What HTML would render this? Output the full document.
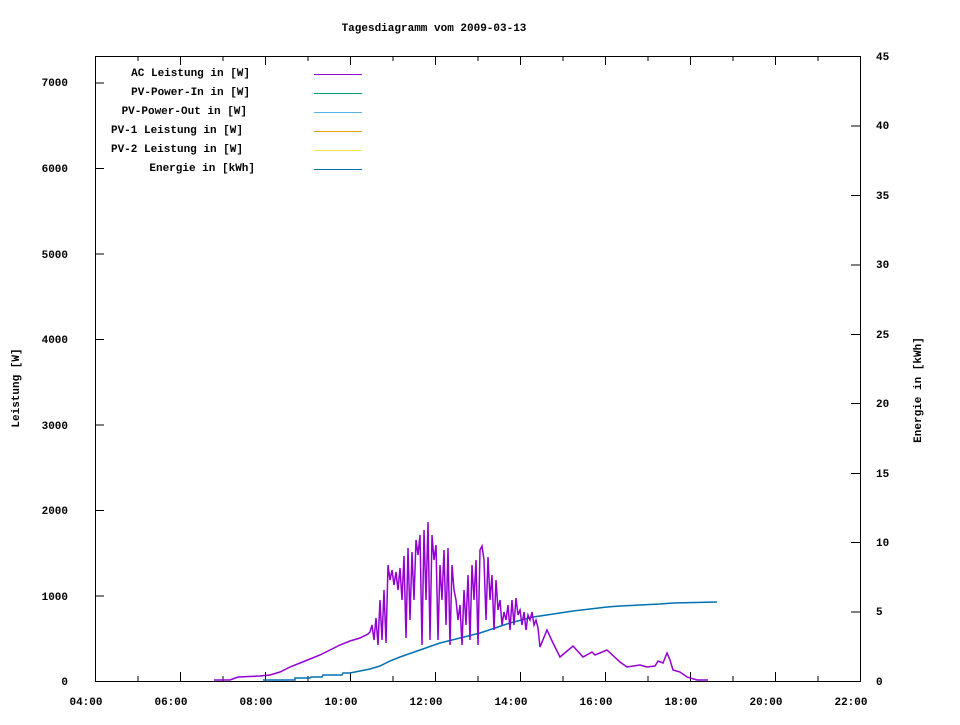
<!DOCTYPE html>
<html><head><meta charset="utf-8"><style>
html,body{margin:0;padding:0;background:#fff;}
svg text{font-family:"Liberation Mono",monospace;font-size:11px;font-weight:bold;fill:#000;}
</style></head><body>
<svg width="960" height="720" xmlns="http://www.w3.org/2000/svg">
<rect width="960" height="720" fill="#fff"/>
<text x="434" y="31" text-anchor="middle">Tagesdiagramm vom 2009-03-13</text>
<g stroke="#000" stroke-width="1">
<path d="M95.5 681v-9M95.5 56v9M138 681v-5M138 56v5M180.5 681v-9M180.5 56v9M223 681v-5M223 56v5M265.5 681v-9M265.5 56v9M308 681v-5M308 56v5M350.5 681v-9M350.5 56v9M393 681v-5M393 56v5M435.5 681v-9M435.5 56v9M478 681v-5M478 56v5M520.5 681v-9M520.5 56v9M563 681v-5M563 56v5M605.5 681v-9M605.5 56v9M648 681v-5M648 56v5M690.5 681v-9M690.5 56v9M733 681v-5M733 56v5M775.5 681v-9M775.5 56v9M818 681v-5M818 56v5M860.5 681v-9M860.5 56v9"/>
<path d="M95 596h9M95 510.5h9M95 425h9M95 339.5h9M95 254h9M95 168.5h9M95 83h9"/>
<path d="M860 612h-9M860 542.5h-9M860 473.5h-9M860 403.5h-9M860 334.5h-9M860 265h-9M860 195.5h-9M860 126h-9"/>
</g>
<rect x="95.5" y="56.5" width="765" height="625" fill="none" stroke="#000"/>
<g text-anchor="middle">
<text x="86" y="705">04:00</text><text x="171" y="705">06:00</text><text x="256" y="705">08:00</text><text x="341" y="705">10:00</text><text x="426" y="705">12:00</text><text x="511" y="705">14:00</text><text x="596" y="705">16:00</text><text x="681" y="705">18:00</text><text x="766" y="705">20:00</text><text x="851" y="705">22:00</text>
</g>
<g text-anchor="end">
<text x="68" y="685">0</text><text x="68" y="600">1000</text><text x="68" y="514">2000</text><text x="68" y="429">3000</text><text x="68" y="343">4000</text><text x="68" y="258">5000</text><text x="68" y="172">6000</text><text x="68" y="86">7000</text>
</g>
<g>
<text x="876" y="685">0</text><text x="876" y="615">5</text><text x="876" y="546">10</text><text x="876" y="477">15</text><text x="876" y="407">20</text><text x="876" y="338">25</text><text x="876" y="268">30</text><text x="876" y="199">35</text><text x="876" y="129">40</text><text x="876" y="60">45</text>
</g>
<text transform="translate(19,388) rotate(-90)" text-anchor="middle">Leistung [W]</text>
<text transform="translate(921,390) rotate(-90)" text-anchor="middle">Energie in [kWh]</text>
<g text-anchor="end">
<text x="250" y="76">AC Leistung in [W]</text>
<text x="250" y="95">PV-Power-In in [W]</text>
<text x="247" y="114">PV-Power-Out in [W]</text>
<text x="243" y="133">PV-1 Leistung in [W]</text>
<text x="243" y="152">PV-2 Leistung in [W]</text>
<text x="255" y="171">Energie in [kWh]</text>
</g>
<line x1="314" y1="74.5" x2="362" y2="74.5" stroke="#9400d3"/>
<line x1="314" y1="93.5" x2="362" y2="93.5" stroke="#009e73"/>
<line x1="314" y1="112.5" x2="362" y2="112.5" stroke="#56b4e9"/>
<line x1="314" y1="131.5" x2="362" y2="131.5" stroke="#e69f00"/>
<line x1="314" y1="150.5" x2="362" y2="150.5" stroke="#f0e442"/>
<line x1="314" y1="169.5" x2="362" y2="169.5" stroke="#0072b2"/>
<polyline fill="none" stroke="#0072b2" stroke-width="1.5" points="263,680 295,680 295,678 310,678 311,677 322,677 323,675 342,675 343,673 350,673 360,671 370,669 380,666 390,661 400,657 420,650 440,643 460,638 480,633 495,628 510,623 533,617 540,616 560,613 573,611 590,609 607,607 620,606 640,605 660,604 673,603 717,602"/>
<polyline fill="none" stroke="#9400d3" stroke-width="1.5" points="214,680 230,680 238,677 260,676 270,675 280,672 290,667 300,663 310,659 320,655 330,650 340,645 350,641 360,638 368,634 370,632 372,625 374,640 376,618 378,645 380,600 382,640 384,590 386,643 388,565 390,580 392,570 394,585 396,572 398,590 400,568 402,600 404,556 406,638 408,548 410,620 412,552 414,600 416,540 418,555 420,535 422,645 424,530 426,600 428,522 430,640 432,535 434,560 436,545 438,640 440,565 442,600 444,550 446,625 448,548 450,645 452,565 454,590 456,600 458,620 460,605 462,645 464,590 466,625 468,575 470,640 472,565 474,600 476,560 478,645 480,550 482,546 484,560 486,620 488,557 490,600 492,575 494,630 496,580 498,610 500,600 502,625 504,612 506,620 508,605 510,630 512,600 514,625 516,598 518,615 520,610 522,625 524,612 526,630 528,615 530,620 532,612 534,625 536,620 538,628 540,647 547,630 553,643 560,657 573,646 583,657 592,652 595,655 607,650 620,662 627,667 640,665 647,667 655,666 658,661 663,663 667,653 670,660 673,670 680,672 687,677 697,680 708,680"/>
</svg>
</body></html>
